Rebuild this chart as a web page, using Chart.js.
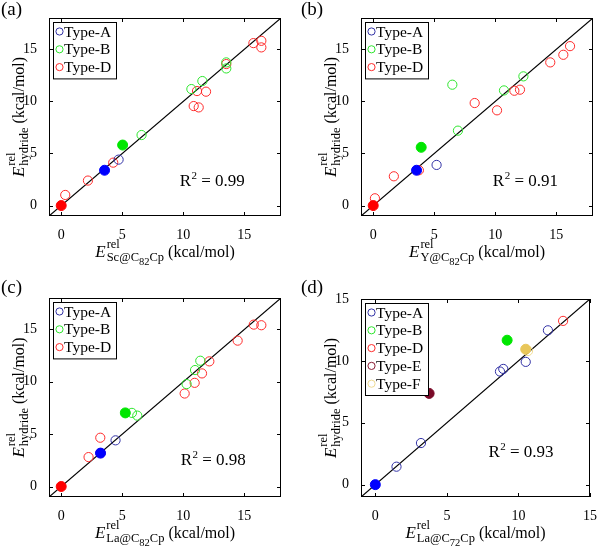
<!DOCTYPE html>
<html>
<head>
<meta charset="UTF-8" />
<title>Relative energies: hydride vs metallofullerene-Cp</title>
<script src="https://cdn.jsdelivr.net/npm/chart.js"></script>
<style>
  body {
    margin: 0;
    background: #fff;
    width: 600px;
    height: 556px;
    position: relative;
    overflow: hidden;
    font-family: "Liberation Serif", serif;
  }
  canvas {
    position: absolute;
  }
</style>
</head>
<body>
<canvas id="chartA" width="300" height="278" style="left:0;top:0"></canvas>
<canvas id="chartB" width="300" height="278" style="left:300px;top:0"></canvas>
<canvas id="chartC" width="300" height="278" style="left:0;top:278px"></canvas>
<canvas id="chartD" width="300" height="278" style="left:300px;top:278px"></canvas>
<script>
// tick values and axis ranges
const ticksMain = [0, 5, 10, 15];
const range18 = [-1, 18];
const range15 = [-1, 15];

// (a) Sc@C82Cp  [x, y] pairs
const scTypeA = [[4.7, 4.41]];
const scTypeB = [[6.58, 6.77], [10.66, 11.18], [11.56, 11.95], [13.52, 13.74], [13.52, 13.16]];
const scTypeD = [[0.33, 1.02], [2.19, 2.4], [4.26, 4.12], [11.12, 10.99], [11.86, 10.93], [10.85, 9.55],
  [11.26, 9.42], [13.52, 13.58], [15.74, 15.59], [16.39, 15.81], [16.39, 15.18]];
const scFilledA = [[3.55, 3.39]];
const scFilledB = [[5.03, 5.81]];
const scFilledD = [[0, 0]];

// (b) Y@C82Cp
const yTypeA = [[5.19, 3.9]];
const yTypeB = [[6.94, 7.19], [6.48, 11.6], [10.71, 11.05], [12.3, 12.4]];
const yTypeD = [[0.14, 0.7], [1.69, 2.81], [3.74, 3.39], [8.31, 9.84], [10.14, 9.14], [11.56, 11.02],
  [12.02, 11.12], [14.5, 13.74], [15.57, 14.47], [16.12, 15.3]];
const yFilledA = [[3.55, 3.39]];
const yFilledB = [[3.93, 5.59]];
const yFilledD = [[0, 0]];

// (c) La@C82Cp
const laTypeA = [[4.45, 4.41]];
const laTypeB = [[5.79, 7.03], [6.23, 6.77], [10.27, 9.78], [10.96, 11.12], [11.39, 12.01]];
const laTypeD = [[2.24, 2.81], [3.22, 3.19], [3.2, 4.66], [10.11, 8.88], [10.93, 9.9], [11.53, 10.8],
  [12.13, 11.95], [14.45, 13.93], [15.77, 15.46], [16.39, 15.4]];
const laFilledA = [[3.22, 3.19]];
const laFilledB = [[5.25, 7.03]];
const laFilledD = [[0, 0]];

// (d) La@C72Cp
const la72TypeA = [[1.48, 1.45], [3.19, 3.36], [8.71, 9.14], [8.94, 9.35], [10.51, 9.92], [12.06, 12.47]];
const la72TypeD = [[13.12, 13.23]];
const la72TypeF = [[10.67, 10.8]];
const la72FilledA = [[0, 0]];
const la72FilledB = [[9.21, 11.67]];
const la72FilledE = [[3.76, 7.37]];
const la72FilledF = [[10.51, 10.94]];

const r2Values = ["0.99", "0.91", "0.98", "0.93"];

const openColors = { A: "#3232a6", B: "#2ee62e", D: "#ff2b2b", E: "#8a1c34", F: "#f0dc94" };
const fillColors = { A: "#0000ff", B: "#00e600", D: "#ff0000", E: "#7a0a28", F: "#e8c65a" };

const SERIF = "Liberation Serif, Times New Roman, Times, serif";

function pts(list) {
  return list.map(p => ({ x: p[0], y: p[1] }));
}
function openSet(list, key) {
  return { data: pts(list), backgroundColor: "rgba(0,0,0,0)", borderColor: openColors[key],
    pointBorderWidth: 1, pointRadius: 4.6, order: 2 };
}
function fillSet(list, key) {
  return { data: pts(list), backgroundColor: fillColors[key], borderColor: fillColors[key],
    pointBorderWidth: 1, pointRadius: 5, order: 1 };
}
function diagSet(range) {
  return { data: [{ x: range[0], y: range[0] }, { x: range[1], y: range[1] }], showLine: true,
    borderColor: "#000", borderWidth: 1.2, pointRadius: 0, order: 3 };
}

// E^rel with subscript text, then " (kcal/mol)"
function drawELabel(ctx, cx, baseY, subParts) {
  const eFont = "italic 17px " + SERIF;
  const smallFont = "12.5px " + SERIF;
  const tinyFont = "10.5px " + SERIF;
  const mainFont = "16px " + SERIF;
  ctx.font = eFont;
  const wE = ctx.measureText("E").width;
  ctx.font = smallFont;
  const wSup = ctx.measureText("rel").width;
  let wSub = 0;
  subParts.forEach(([t, lvl]) => {
    ctx.font = lvl === 2 ? tinyFont : smallFont;
    wSub += ctx.measureText(t).width;
  });
  const unit = " (kcal/mol)";
  ctx.font = mainFont;
  const wU = ctx.measureText(unit).width;
  const total = wE + 1 + Math.max(wSup, wSub) + wU;
  let x = cx - total / 2;
  ctx.fillStyle = "#000";
  ctx.textAlign = "left";
  ctx.textBaseline = "alphabetic";
  ctx.font = eFont;
  ctx.fillText("E", x, baseY);
  x += wE + 1;
  ctx.font = smallFont;
  ctx.fillText("rel", x, baseY - 9);
  let sx = x;
  subParts.forEach(([t, lvl]) => {
    ctx.font = lvl === 2 ? tinyFont : smallFont;
    ctx.fillText(t, sx, baseY + (lvl === 2 ? 8 : 4));
    sx += ctx.measureText(t).width;
  });
  x += Math.max(wSup, wSub);
  ctx.font = mainFont;
  ctx.fillText(unit, x, baseY);
}

function decoPlugin(info) {
  return {
    id: "deco",
    afterDraw(chart) {
      const ctx = chart.ctx;
      const a = chart.chartArea;
      const xs = chart.scales.x, ys = chart.scales.y;
      ctx.save();
      // frame and inward ticks on all sides
      ctx.strokeStyle = "#000";
      ctx.lineWidth = 1;
      ctx.strokeRect(a.left + 0.5, a.top + 0.5, a.right - a.left - 1, a.bottom - a.top - 1);
      ctx.beginPath();
      info.ticks.forEach(v => {
        const px = Math.round(xs.getPixelForValue(v)) + 0.5;
        ctx.moveTo(px, a.bottom); ctx.lineTo(px, a.bottom - 4);
        ctx.moveTo(px, a.top); ctx.lineTo(px, a.top + 4);
        const py = Math.round(ys.getPixelForValue(v)) + 0.5;
        ctx.moveTo(a.left, py); ctx.lineTo(a.left + 4, py);
        ctx.moveTo(a.right, py); ctx.lineTo(a.right - 4, py);
      });
      ctx.stroke();

      // legend box
      const lx = a.left + 4, ly = a.top + 4;
      const rowH = 17.8;
      const boxH = info.legend.length * rowH + 3;
      ctx.fillStyle = "#fff";
      ctx.fillRect(lx, ly, 63, boxH);
      ctx.strokeRect(lx + 0.5, ly + 0.5, 63, boxH);
      ctx.font = "15.5px " + SERIF;
      ctx.textBaseline = "middle";
      ctx.textAlign = "left";
      info.legend.forEach((key, i) => {
        const cy = ly + 9.5 + i * rowH;
        ctx.beginPath();
        ctx.strokeStyle = openColors[key];
        ctx.arc(lx + 6.5, cy, 3.6, 0, Math.PI * 2);
        ctx.stroke();
        ctx.fillStyle = "#000";
        ctx.fillText("Type-" + key, lx + 11, cy + 1);
      });

      // R^2 annotation
      const rx = xs.getPixelForValue(info.r2Pos[0]);
      const ry = ys.getPixelForValue(info.r2Pos[1]);
      ctx.fillStyle = "#000";
      ctx.textBaseline = "alphabetic";
      ctx.font = "17px " + SERIF;
      ctx.fillText("R", rx, ry);
      let w = ctx.measureText("R").width;
      ctx.font = "11px " + SERIF;
      ctx.fillText("2", rx + w + 0.5, ry - 7);
      w += ctx.measureText("2").width + 0.5;
      ctx.font = "17px " + SERIF;
      ctx.fillText(" = " + info.r2, rx + w, ry);

      // axis titles
      drawELabel(ctx, (a.left + a.right) / 2, a.bottom + 41, info.xSub);
      ctx.translate(a.left - 25, (a.top + a.bottom) / 2);
      ctx.rotate(-Math.PI / 2);
      drawELabel(ctx, 0, 0, [["hydride", 1]]);
      ctx.restore();

      // panel letter
      ctx.save();
      ctx.fillStyle = "#000";
      ctx.font = "19px " + SERIF;
      ctx.textAlign = "left";
      ctx.textBaseline = "alphabetic";
      ctx.fillText(info.letter, 1, 15);
      ctx.restore();
    }
  };
}

function makePanel(id, info) {
  const tickFont = { family: SERIF, size: 14 };
  new Chart(document.getElementById(id), {
    type: "scatter",
    data: { datasets: info.datasets },
    options: {
      responsive: false,
      animation: false,
      events: [],
      layout: { padding: info.padding },
      plugins: { legend: { display: false }, tooltip: { enabled: false } },
      scales: {
        x: {
          min: info.range[0], max: info.range[1],
          grid: { display: false }, border: { display: false },
          ticks: { font: tickFont, color: "#000", padding: 3, maxRotation: 0 },
          afterBuildTicks: s => { s.ticks = info.ticks.map(v => ({ value: v })); },
          afterFit: s => { s.height = info.xAxisH; }
        },
        y: {
          min: info.range[0], max: info.range[1],
          grid: { display: false }, border: { display: false },
          ticks: { font: tickFont, color: "#000", padding: 4 },
          afterBuildTicks: s => { s.ticks = info.ticks.map(v => ({ value: v })); },
          afterFit: s => { s.width = info.yAxisW; }
        }
      }
    },
    plugins: [decoPlugin(info)]
  });
}

function drawAll() {
  makePanel("chartA", {
    letter: "(a)", r2: r2Values[0], r2Pos: [9.7, 1.9], range: range18, ticks: ticksMain,
    padding: { left: 0, top: 18, right: 19, bottom: 0 }, yAxisW: 49, xAxisH: 62,
    legend: ["A", "B", "D"], xSub: [["Sc@C", 1], ["82", 2], ["Cp", 1]],
    datasets: [diagSet(range18), openSet(scTypeA, "A"), openSet(scTypeB, "B"), openSet(scTypeD, "D"),
      fillSet(scFilledA, "A"), fillSet(scFilledB, "B"), fillSet(scFilledD, "D")]
  });

  makePanel("chartB", {
    letter: "(b)", r2: r2Values[1], r2Pos: [9.8, 1.9], range: range18, ticks: ticksMain,
    padding: { left: 0, top: 18, right: 7, bottom: 0 }, yAxisW: 61, xAxisH: 62,
    legend: ["A", "B", "D"], xSub: [["Y@C", 1], ["82", 2], ["Cp", 1]],
    datasets: [diagSet(range18), openSet(yTypeA, "A"), openSet(yTypeB, "B"), openSet(yTypeD, "D"),
      fillSet(yFilledA, "A"), fillSet(yFilledB, "B"), fillSet(yFilledD, "D")]
  });

  makePanel("chartC", {
    letter: "(c)", r2: r2Values[2], r2Pos: [9.78, 2.1], range: range18, ticks: ticksMain,
    padding: { left: 0, top: 20, right: 19, bottom: 0 }, yAxisW: 49, xAxisH: 59,
    legend: ["A", "B", "D"], xSub: [["La@C", 1], ["82", 2], ["Cp", 1]],
    datasets: [diagSet(range18), openSet(laTypeA, "A"), openSet(laTypeB, "B"), openSet(laTypeD, "D"),
      fillSet(laFilledA, "A"), fillSet(laFilledB, "B"), fillSet(laFilledD, "D")]
  });

  makePanel("chartD", {
    letter: "(d)", r2: r2Values[3], r2Pos: [7.9, 2.2], range: range15, ticks: ticksMain,
    padding: { left: 0, top: 21, right: 7, bottom: 0 }, yAxisW: 61, xAxisH: 59,
    legend: ["A", "B", "D", "E", "F"], xSub: [["La@C", 1], ["72", 2], ["Cp", 1]],
    datasets: [diagSet(range15), openSet(la72TypeA, "A"), openSet(la72TypeD, "D"), openSet(la72TypeF, "F"),
      fillSet(la72FilledA, "A"), fillSet(la72FilledB, "B"), fillSet(la72FilledE, "E"), fillSet(la72FilledF, "F")]
  });
}

// make sure the serif face is ready before the canvases draw text
Promise.all([
  document.fonts.load("16px 'Liberation Serif'"),
  document.fonts.load("italic 17px 'Liberation Serif'")
]).then(drawAll, drawAll);
</script>
</body>
</html>
